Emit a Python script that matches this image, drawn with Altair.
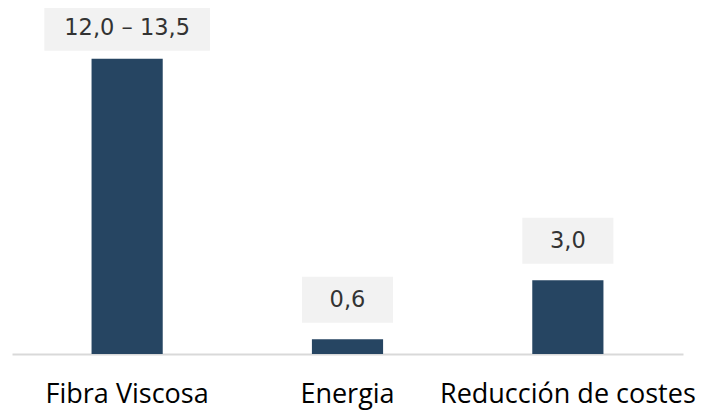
import altair as alt
import pandas as pd

categories = ["Fibra Viscosa", "Energia", "Reducción de costes"]
values = [12.0, 0.6, 3.0]
labels = ["12,0 – 13,5", "0,6", "3,0"]

df = pd.DataFrame({"cat": categories, "value": values, "label": labels})

BAR = "#264562"
BOX = "#f2f2f2"

x = alt.X("cat:N", sort=categories,
          scale=alt.Scale(paddingInner=0.677, paddingOuter=0.361),
          axis=alt.Axis(title=None, ticks=False, domainColor="#d9d9d9", domainWidth=2,
                        labelFont="Open Sans", labelFontSize=27, labelColor="#000000",
                        labelPadding=27, labelAngle=0, labelLimit=0))
y = alt.Y("value:Q", scale=alt.Scale(domain=[0, 14.06], nice=False), axis=None)

base = alt.Chart(df)
bars = base.mark_bar(color=BAR).encode(x=x, y=y)

big = base.transform_filter("datum.value > 10")
small = base.transform_filter("datum.value <= 10")

box_big = big.mark_point(filled=True, color=BOX, opacity=1, size=8464,
                         shape="M-1.8,-0.5H1.8V0.5H-1.8Z", yOffset=-31).encode(x=x, y=y)
box_small = small.mark_point(filled=True, color=BOX, opacity=1, size=8464,
                             shape="M-0.99,-0.5H0.99V0.5H-0.99Z", yOffset=-39.5).encode(x=x, y=y)
txt_big = big.mark_text(font="DejaVu Sans", fontSize=22.5, color="#333333", baseline="middle",
                        yOffset=-31).encode(x=x, y=y, text="label:N")
txt_small = small.mark_text(font="DejaVu Sans", fontSize=22.5, color="#333333", baseline="middle",
                            yOffset=-39.5).encode(x=x, y=y, text="label:N")

chart = alt.layer(bars, box_big, box_small, txt_big, txt_small).properties(
    width=671, height=346,
    background="white",
    autosize=alt.AutoSizeParams(type="none"),
    padding={"left": 4, "top": 0, "right": 13, "bottom": 57},
).configure_view(strokeWidth=0, stroke="transparent")

chart.save("out.html", embed_options={"renderer": "svg", "actions": False})
